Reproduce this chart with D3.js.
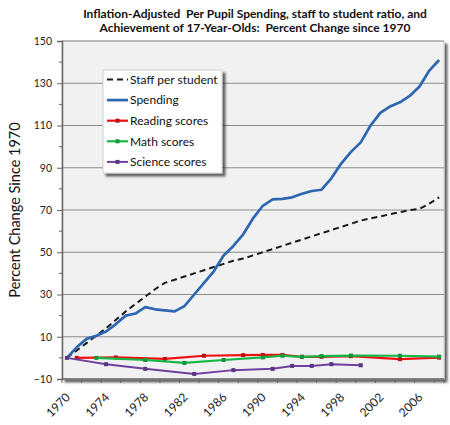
<!DOCTYPE html>
<html>
<head>
<meta charset="utf-8">
<script src="https://cdn.jsdelivr.net/npm/d3@7"></script>
<style>
  body { margin: 0; background: #fff; }
  svg { font-family: Lato, "Open Sans", sans-serif; }
  text { white-space: pre; }
</style>
</head>
<body>
<div id="chart"></div>
<script>
'use strict';

// years on the category axis
const years = d3.range(1970, 2009);
const yearLabels = [1970, 1974, 1978, 1982, 1986, 1990, 1994, 1998, 2002, 2006];
const yTicks = [-10, 10, 30, 50, 70, 90, 110, 130, 150];

// spending and staff, one value per year 1970..2008
const spending = [0, 5, 9, 10.5, 12.5, 16, 20, 21, 24, 23,
  22.5, 22, 24.5, 30, 35.5, 41, 48.5, 53, 58.5, 66,
  72, 75, 75.3, 76, 77.7, 79, 79.6, 85, 92, 97.5,
  102, 110, 116, 119, 121, 124, 128.5, 136, 141];
const staff = [0, 3.5, 7, 10.5, 14, 18, 22, 25.5, 29, 32.5,
  35.5, 37, 38.5, 40, 41.5, 43, 44.5, 46, 47, 48.5,
  50, 51.5, 53, 54.5, 56, 57.5, 59, 60.5, 62, 63.5,
  65, 66, 67, 68, 69, 70, 70.5, 73, 76];

// test score series, only assessment years
const readingYears = [1971, 1975, 1980, 1984, 1988, 1990, 1992, 1994, 1996, 1999, 2004, 2008];
const reading = [0, 0.2, -0.5, 1, 1.3, 1.4, 1.4, 0.5, 0.5, 0.8, -0.6, 0.1];
const mathYears = [1973, 1978, 1982, 1986, 1990, 1992, 1994, 1996, 1999, 2004, 2008];
const math = [0, -1, -2.4, -1, 0.2, 1, 0.5, 0.8, 1.1, 1, 0.6];
const scienceYears = [1970, 1974, 1978, 1983, 1987, 1991, 1993, 1995, 1997, 2000];
const science = [0, -3, -5.2, -7.6, -5.8, -5.2, -3.8, -3.8, -3, -3.5];

const series = [
  {name: 'Staff per student', years: years, values: staff, color: '#1a1a1a', width: 2, dash: '6,4', marker: false},
  {name: 'Spending', years: years, values: spending, color: '#2e67b1', width: 2.7, dash: null, marker: false},
  {name: 'Reading scores', years: readingYears, values: reading, color: '#ee1111', width: 2.2, dash: null, marker: true},
  {name: 'Math scores', years: mathYears, values: math, color: '#14b846', width: 2.2, dash: null, marker: true},
  {name: 'Science scores', years: scienceYears, values: science, color: '#7040a0', width: 2, dash: null, marker: true}
];

const svgWidth = 450, svgHeight = 425;
const plot = {left: 62, right: 444, top: 41, bottom: 379};

const svg = d3.select('#chart').append('svg')
  .attr('width', svgWidth)
  .attr('height', svgHeight);

const x = d3.scaleBand().domain(years).range([plot.left, plot.right]).padding(0);
const cx = yr => x(yr) + x.bandwidth() / 2;
const y = d3.scaleLinear().domain([-10, 150]).range([plot.bottom, plot.top]);

// drop shadow for plot area and legend
const defs = svg.append('defs');
const shadow = defs.append('filter').attr('id', 'shadow')
  .attr('x', '-10%').attr('y', '-10%').attr('width', '125%').attr('height', '125%');
shadow.append('feDropShadow').attr('dx', 3).attr('dy', 3).attr('stdDeviation', 1.2)
  .attr('flood-color', '#000').attr('flood-opacity', 0.6);

svg.append('rect')
  .attr('x', plot.left).attr('y', plot.top)
  .attr('width', plot.right - plot.left).attr('height', plot.bottom - plot.top)
  .attr('fill', '#f1f1f1')
  .attr('stroke', '#d6d6d6')
  .attr('filter', 'url(#shadow)');

// gridlines
svg.append('g').selectAll('line')
  .data(yTicks.slice(1))
  .enter().append('line')
    .attr('x1', plot.left).attr('x2', plot.right)
    .attr('y1', d => y(d)).attr('y2', d => y(d))
    .attr('stroke', '#8c8c8c').attr('stroke-width', 1);

// y axis
const yAxis = svg.append('g')
  .attr('transform', `translate(${plot.left},0)`)
  .call(d3.axisLeft(y).tickValues(yTicks).tickSize(5).tickPadding(5));
yAxis.append('g').selectAll('line')
  .data(d3.range(0, 150, 20))
  .enter().append('line')
    .attr('x1', -3).attr('x2', 0)
    .attr('y1', d => y(d)).attr('y2', d => y(d))
    .attr('stroke', '#666');
yAxis.select('.domain').attr('stroke', '#666').attr('stroke-width', 1.5);
yAxis.selectAll('.tick line').attr('stroke', '#666');
yAxis.selectAll('text').attr('font-size', 10.5).attr('fill', '#222')
  .attr('font-family', 'Lato, sans-serif');

// x axis, ticks every 2 categories on boundaries
const xAxis = svg.append('g');
xAxis.append('line')
  .attr('x1', plot.left).attr('x2', plot.right)
  .attr('y1', plot.bottom).attr('y2', plot.bottom)
  .attr('stroke', '#666').attr('stroke-width', 1.5);
xAxis.selectAll('line.tick')
  .data(years.filter((d, i) => i % 2 === 0).concat([2009]))
  .enter().append('line')
    .attr('class', 'tick')
    .attr('x1', d => d === 2009 ? plot.right : x(d))
    .attr('x2', d => d === 2009 ? plot.right : x(d))
    .attr('y1', plot.bottom).attr('y2', plot.bottom + 4)
    .attr('stroke', '#666');
xAxis.selectAll('text')
  .data(yearLabels)
  .enter().append('text')
    .attr('transform', d => `translate(${cx(d) + 4},${plot.bottom + 19}) rotate(-45)`)
    .attr('text-anchor', 'end')
    .attr('font-size', 12)
    .attr('fill', '#222')
    .text(d => d);

// lines
const line = d3.line()
  .x(d => cx(d.year))
  .y(d => y(d.value));

series.forEach(s => {
  const pts = s.years.map((yr, i) => ({year: yr, value: s.values[i]}));
  svg.append('path')
    .datum(pts)
    .attr('fill', 'none')
    .attr('stroke', s.color)
    .attr('stroke-width', s.width)
    .attr('stroke-dasharray', s.dash)
    .attr('stroke-linejoin', 'round')
    .attr('d', line);
  if (s.marker) {
    svg.append('g').selectAll('rect')
      .data(pts)
      .enter().append('rect')
        .attr('x', d => cx(d.year) - 2)
        .attr('y', d => y(d.value) - 2)
        .attr('width', 4).attr('height', 4)
        .attr('fill', d3.color(s.color).darker(0.6));
  }
});

// legend
const legend = svg.append('g').attr('transform', 'translate(103,70)');
legend.append('rect')
  .attr('width', 119).attr('height', 103)
  .attr('fill', '#fff').attr('stroke', '#d0d0d0')
  .attr('filter', 'url(#shadow)');
const rows = legend.selectAll('g.row')
  .data(series)
  .enter().append('g')
    .attr('class', 'row')
    .attr('transform', (d, i) => `translate(0,${9.5 + i * 20.6})`);
rows.append('line')
  .attr('x1', 4).attr('x2', 25)
  .attr('stroke', d => d.color)
  .attr('stroke-width', d => d.width)
  .attr('stroke-dasharray', d => d.dash);
rows.filter(d => d.marker).append('rect')
  .attr('x', 12.5).attr('y', -2).attr('width', 4).attr('height', 4)
  .attr('fill', d => d3.color(d.color).darker(0.6));
rows.append('text')
  .attr('x', 27).attr('dy', '0.35em')
  .attr('font-size', 12)
  .attr('fill', '#111')
  .text(d => d.name);

// titles
const title = svg.append('text')
  .attr('text-anchor', 'middle')
  .attr('font-size', 12)
  .attr('font-weight', 'bold')
  .attr('fill', '#111');
title.append('tspan').attr('x', 255).attr('y', 18)
  .text('Inflation-Adjusted  Per Pupil Spending, staff to student ratio, and');
title.append('tspan').attr('x', 255).attr('y', 32)
  .text('Achievement of 17-Year-Olds:  Percent Change since 1970');

svg.append('text')
  .attr('transform', `translate(20,${(plot.top + plot.bottom) / 2}) rotate(-90)`)
  .attr('text-anchor', 'middle')
  .attr('font-size', 14.5)
  .attr('fill', '#111')
  .text('Percent Change Since 1970');
</script>
</body>
</html>
